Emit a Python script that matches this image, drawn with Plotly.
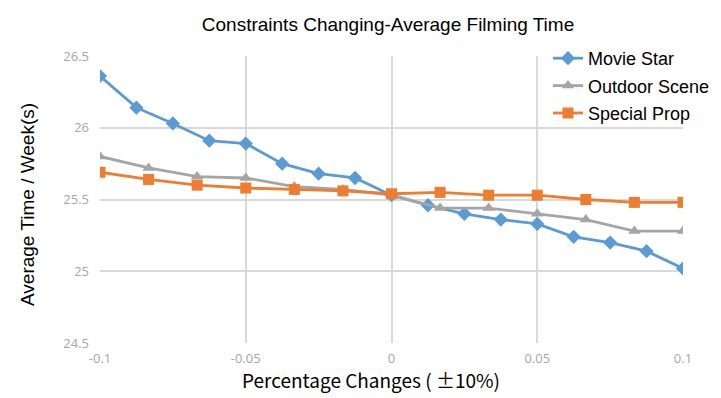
import plotly.graph_objects as go

star_x = [-0.1, -0.0875, -0.075, -0.0625, -0.05, -0.0375, -0.025, -0.0125, 0.0,
          0.0125, 0.025, 0.0375, 0.05, 0.0625, 0.075, 0.0875, 0.1]
star_y = [26.36, 26.14, 26.03, 25.91, 25.89, 25.75, 25.68, 25.65, 25.53,
          25.46, 25.40, 25.36, 25.33, 25.24, 25.20, 25.14, 25.02]

other_x = [-0.1, -0.08333, -0.06667, -0.05, -0.03333, -0.01667, 0.0,
           0.01667, 0.03333, 0.05, 0.06667, 0.08333, 0.1]
outdoor_y = [25.80, 25.72, 25.66, 25.65, 25.59, 25.57, 25.53,
             25.44, 25.44, 25.40, 25.36, 25.28, 25.28]
prop_y = [25.69, 25.64, 25.60, 25.58, 25.57, 25.56, 25.54,
          25.55, 25.53, 25.53, 25.50, 25.48, 25.48]

x_ticks = [-0.1, -0.05, 0, 0.05, 0.1]
x_tick_text = ["-0.1", "-0.05", "0", "0.05", "0.1"]
y_ticks = [24.5, 25, 25.5, 26, 26.5]
y_tick_text = ["24.5", "25", "25.5", "26", "26.5"]

# page body has an 8px margin, so the figure is drawn 8px smaller/shifted
OFF = 8
W, H = 721 - OFF, 398 - OFF
L, R, T, B = 100 - OFF, 38, 56 - OFF, 55
PW, PH = W - L - R, H - T - B

fig = go.Figure()
fig.add_trace(go.Scatter(x=star_x, y=star_y, name="Movie Star", mode="lines+markers",
                         legendgroup="a",
                         line=dict(color="#5B9BD5", width=2.8),
                         marker=dict(symbol="diamond", size=11, color="#5B9BD5")))
fig.add_trace(go.Scatter(x=other_x, y=outdoor_y, name="Outdoor Scene", mode="lines+markers",
                         legendgroup="b",
                         line=dict(color="#A5A5A5", width=2.8),
                         marker=dict(symbol="triangle-up", size=11, color="#A5A5A5")))
fig.add_trace(go.Scatter(x=other_x, y=prop_y, name="Special Prop", mode="lines+markers",
                         legendgroup="c",
                         line=dict(color="#ED7D31", width=2.8),
                         marker=dict(symbol="square", size=11, color="#ED7D31")))

fig.update_layout(
    width=W, height=H,
    margin=dict(l=L, r=R, t=T, b=B, autoexpand=False),
    paper_bgcolor="white", plot_bgcolor="white",
    font=dict(family="Liberation Sans, Arial, sans-serif", color="black"),
    title=dict(text="Constraints Changing-Average Filming Time",
               x=(388 - OFF) / W, xanchor="center", xref="container",
               y=1 - (24 - OFF) / H, yanchor="middle", font=dict(size=19, color="black")),
    legend=dict(x=(548 - 100) / PW, y=1 + 16 / PH, xanchor="left", yanchor="top",
                bgcolor="rgba(255,255,255,0)", font=dict(size=18, color="black"),
                tracegroupgap=1, itemwidth=30),
    showlegend=True,
    annotations=[
        dict(text="Percentage Changes ( ±10%)", xref="paper", yref="paper",
             x=(371 - 100) / PW, y=-(379 - 343) / PH, xanchor="center", yanchor="middle",
             showarrow=False,
             font=dict(size=19, color="black", family="Noto Sans CJK SC, sans-serif")),
        dict(text="Average Time / Week(s)", xref="paper", yref="paper",
             x=-(100 - 27) / PW, y=1 - (205 - 56) / PH, xanchor="center", yanchor="middle",
             textangle=-90, showarrow=False,
             font=dict(size=19, color="black")),
    ],
)
fig.update_xaxes(range=[-0.1, 0.1], tickvals=x_ticks, ticktext=x_tick_text,
                 showgrid=True, gridcolor="#D9D9D9", gridwidth=1.5, zeroline=False,
                 showline=False, ticks="", automargin=False, ticklabelstandoff=6,
                 tickfont=dict(size=13, color="#A6A6A6", family="Open Sans, sans-serif"))
fig.update_yaxes(range=[24.5, 26.5], tickvals=y_ticks, ticktext=y_tick_text,
                 showgrid=True, gridcolor="#D9D9D9", gridwidth=1.5, zeroline=False,
                 showline=False, ticks="", automargin=False, ticklabelstandoff=10,
                 tickfont=dict(size=13, color="#A6A6A6", family="Open Sans, sans-serif"))

fig.write_html("out.html")
